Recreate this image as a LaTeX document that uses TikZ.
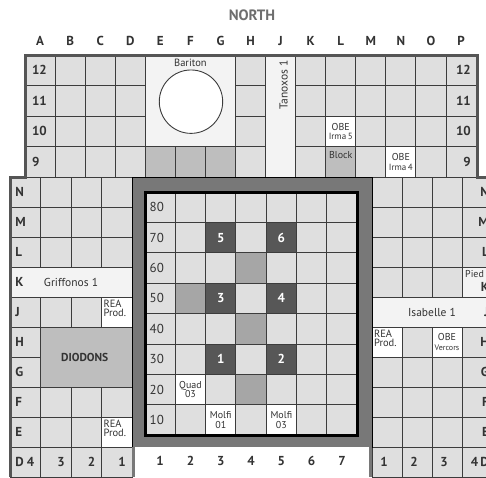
\documentclass[tikz,border=0pt]{standalone}
\usepackage{xcolor}
\usepackage{fontspec}
\setmainfont{PT Sans}
\usepackage{tikz}

\definecolor{cellgrey}{HTML}{DFDFDF}
\definecolor{bandwhite}{HTML}{F3F3F3}
\definecolor{midgrey}{HTML}{BEBEBE}
\definecolor{pitgrey}{HTML}{A6A6A6}
\definecolor{darkcell}{HTML}{575757}
\definecolor{framegrey}{HTML}{787878}
\definecolor{gridline}{HTML}{3C3C3C}
\definecolor{outline}{HTML}{555555}
\definecolor{labeltext}{HTML}{333333}
\definecolor{northgrey}{HTML}{6E6E6E}

\begin{document}
\begin{tikzpicture}[x=1pt,y=-1pt,
    cell/.style={draw=gridline,fill=cellgrey,line width=0.9pt},
    band/.style={cell,fill=bandwhite},
    whitecell/.style={cell,fill=white},
    graycell/.style={cell,fill=midgrey},
    pitcell/.style={cell,fill=pitgrey},
    wellcell/.style={cell,fill=darkcell},
    lbl/.style={font=\bfseries\fontsize{13}{13}\selectfont,text=labeltext,inner sep=0pt},
    zonetxt/.style={font=\fontsize{11.5}{11.5}\selectfont,text=labeltext,inner sep=0pt},
    smalltxt/.style={font=\fontsize{10}{9.5}\selectfont,text=labeltext,align=center,inner sep=0pt},
    reatxt/.style={font=\fontsize{10.5}{9.5}\selectfont,text=labeltext,align=left,inner sep=0pt,anchor=north west}
  ]
  \useasboundingbox (0,0) rectangle (486,477);
  \clip (0,0) rectangle (486,477);

  \node[font=\bfseries\fontsize{15}{15}\selectfont,text=northgrey] (north) at (252,15) {NORTH};

  % north block, rows 12 to 9
  \begin{scope}[shift={(25pt,-55pt)},x=30.07pt,y=-30.5pt]
    \foreach \c in {0,...,14}
      \foreach \r in {0,...,3}
        \draw[cell] (\c,\r) rectangle ++(1,1);
    \draw[band] (4,0) rectangle (7,3);
    \draw[band] (8,0) rectangle (9,4);
    \foreach \c in {4,5,6}
      \draw[graycell] (\c,3) rectangle ++(1,1);
    \draw[whitecell] (10,2) rectangle ++(1,1);
    \draw[graycell] (10,3) rectangle ++(1,1);
    \draw[whitecell] (12,3) rectangle ++(1,1);
    \draw[draw=gridline,fill=white,line width=0.9pt] (5.52,1.53) circle [radius=31.7pt];
    \node[smalltxt,font=\fontsize{10.5}{10}\selectfont] (bariton) at (5.5,0.27) {Bariton};
    \node[zonetxt,rotate=90] (tanoxos) at (8.6,0.98) {Tanoxos 1};
    \node[smalltxt] (irma5) at (10.5,2.5) {OBE\\{\fontsize{9}{9}\selectfont Irma\,5}};
    \node[smalltxt,anchor=north] (block) at (10.5,3.15) {Block};
    \node[smalltxt] (irma4) at (12.5,3.5) {OBE\\{\fontsize{9}{9}\selectfont Irma\,4}};
    \foreach \l [count=\c from 0] in {A,B,C,D,E,F,G,H,J,K,L,M,N,O,P}
      \node[lbl] (col\l) at (\c+0.5,-0.45) {\l};
    \foreach \n [count=\r from 0] in {12,11,10,9} {
      \node[lbl,anchor=west] (west\n) at (0.23,\r+0.5) {\n};
      \node[lbl,anchor=east] (east\n) at (14.83,\r+0.5) {\n};
    }
  \end{scope}

  % west wing
  \begin{scope}[shift={(10pt,-177pt)},x=30.5pt,y=-30pt]
    \foreach \c in {0,...,3}
      \foreach \r in {0,...,9}
        \draw[cell] (\c,\r) rectangle ++(1,1);
    \draw[band] (0,3) rectangle (4,4);
    \draw[whitecell] (3,4) rectangle ++(1,1);
    \draw[whitecell] (3,8) rectangle ++(1,1);
    \draw[graycell] (1,5) rectangle (4,7);
    \node[zonetxt] (griffonos) at (2,3.5) {Griffonos 1};
    \node[zonetxt,font=\bfseries\fontsize{11.5}{11.5}\selectfont] (diodons) at (2.45,6) {DIODONS};
    \node[reatxt] (reaJ) at (3.06,4.08) {REA\\Prod.};
    \node[reatxt] (reaE) at (3.06,8.08) {REA\\Prod.};
    \foreach \l [count=\r from 0] in {N,M,L,K,J,H,G,F,E,D}
      \node[lbl,anchor=west] (west\l) at (0.17,\r+0.5) {\l};
    \foreach \n in {1,2,3,4}
      \node[lbl,anchor=east] (westnum\n) at (4.8-\n,9.5) {\n};
  \end{scope}

  % east wing
  \begin{scope}[shift={(372pt,-177pt)},x=30pt,y=-30pt]
    \foreach \c in {0,...,3}
      \foreach \r in {0,...,9}
        \draw[cell] (\c,\r) rectangle ++(1,1);
    \draw[band] (3,3) rectangle ++(1,1);
    \draw[band] (0,4) rectangle (4,5);
    \draw[whitecell] (0,5) rectangle ++(1,1);
    \draw[whitecell] (2,5) rectangle ++(1,1);
    \node[zonetxt] (isabelle) at (2,4.5) {Isabelle 1};
    \node[reatxt] (reaH) at (0.06,5.08) {REA\\Prod.};
    \node[smalltxt] (vercors) at (2.5,5.5) {OBE\\{\fontsize{8}{8}\selectfont Vercors}};
    \node[smalltxt,anchor=north west] (pied) at (3.1,3.12) {Pied};
    \node[lbl,anchor=east] (eastK) at (3.9,3.68) {K};
    \foreach \l/\r in {N/0,M/1,L/2,J/4,H/5,G/6,F/7,E/8}
      \node[lbl,anchor=east] (east\l) at (3.9,\r+0.5) {\l};
    \node[lbl,anchor=east] (eastD) at (3.9,9.5) {4\,D};
    \foreach \n in {1,2,3}
      \node[lbl,anchor=west] (eastnum\n) at (\n-0.73,9.5) {\n};
  \end{scope}

  % central pit
  \draw[draw=black,fill=framegrey,line width=0.8pt] (132,177) rectangle (372,447);
  \fill[white] (133.5,447) rectangle (370.5,477);
  \draw[framegrey,line width=3pt] (133.5,447) -- (133.5,477);
  \draw[framegrey,line width=3pt] (370.5,447) -- (370.5,477);
  \begin{scope}[shift={(145pt,-192pt)},x=30.3pt,y=-30.4pt]
    \foreach \c in {0,...,6}
      \foreach \r in {0,...,7}
        \draw[cell] (\c,\r) rectangle ++(1,1);
    \foreach \c/\r in {3/2,1/3,3/4,3/6}
      \draw[pitcell] (\c,\r) rectangle ++(1,1);
    \foreach \c/\r in {1/6,2/7,4/7}
      \draw[whitecell] (\c,\r) rectangle ++(1,1);
    \foreach \c/\r/\n in {2/1/5,4/1/6,2/3/3,4/3/4,2/5/1,4/5/2} {
      \draw[wellcell] (\c,\r) rectangle ++(1,1);
      \node[lbl,text=white] (well\n) at (\c+0.5,\r+0.5) {\n};
    }
    \node[smalltxt] (quad) at (1.5,6.5) {Quad\\03};
    \node[smalltxt] (molfiA) at (2.5,7.5) {Molfi\\01};
    \node[smalltxt] (molfiB) at (4.5,7.5) {Molfi\\03};
    \draw[black,line width=3pt] (0,0) rectangle (7,8);
    \foreach \v [count=\r from 0] in {80,70,...,10}
      \node[zonetxt,font=\fontsize{13}{13}\selectfont,anchor=west] (row\v) at (0.15,\r+0.5) {\v};
    \foreach \n in {1,...,7}
      \node[lbl] (num\n) at (\n-0.5,8.85) {\n};
  \end{scope}

  % outer wall
  \draw[outline,line width=3pt] (10,477) -- (10,177) -- (25,177) -- (25,55) -- (477,55) -- (477,177) -- (486,177);
\end{tikzpicture}
\end{document}
